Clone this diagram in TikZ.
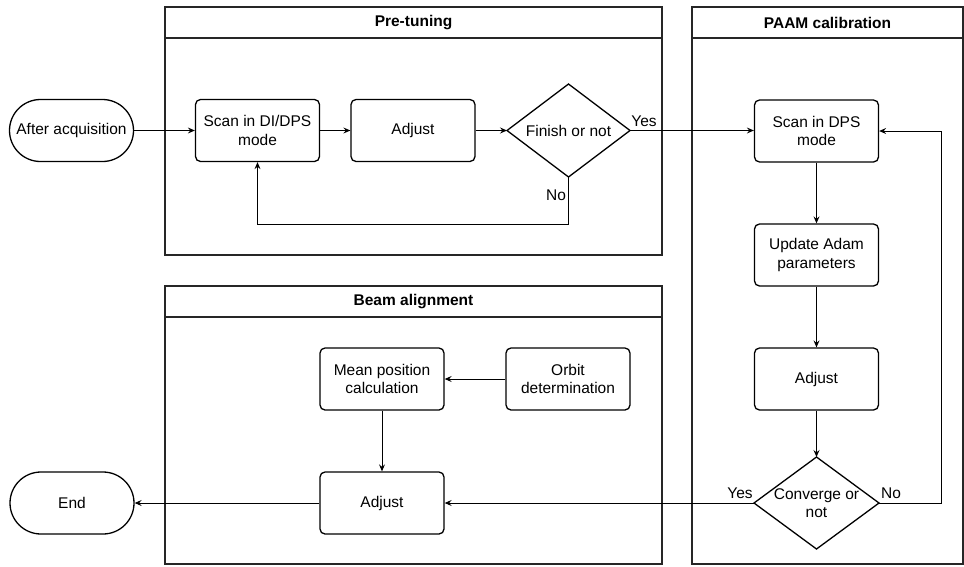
\documentclass[tikz,border=0pt]{standalone}
\usepackage{fontspec}
\setmainfont{Liberation Sans}
\usetikzlibrary{arrows.meta,calc}

\begin{document}
\begin{tikzpicture}[x=1pt,y=-1pt,
  every node/.style={font=\fontsize{15.5}{18.5}\selectfont, text=black, inner sep=0pt},
  proc/.style={draw, line width=1.3pt, rounded corners=5pt, minimum width=124pt, minimum height=62pt, align=center},
  term/.style={draw, line width=1.3pt, rounded corners=31pt, minimum width=124pt, minimum height=62pt, align=center},
  decision/.style={draw, line width=1.3pt},
  dectext/.style={align=center},
  lane/.style={draw, line width=1.1pt, draw=black!85},
  lanetitle/.style={font=\fontsize{15.5}{18.5}\selectfont\bfseries},
  flow/.style={line width=1pt, -{Stealth[length=7pt,width=6pt,inset=2.5pt]}},
  lbl/.style={font=\fontsize{15.5}{18.5}\selectfont}
]
\useasboundingbox (0,0) rectangle (964,566);

% swimlane containers
\draw[lane] (165,7) rectangle (662,255);
\draw[lane] (165,38) -- (662,38);
\node[lanetitle] (tpre) at (413.5,23) {Pre-tuning};

\draw[lane] (692,7) rectangle (963,564);
\draw[lane] (692,38) -- (963,38);
\node[lanetitle] (tpaam) at (827.5,23) {PAAM calibration};

\draw[lane] (165,286) rectangle (662,564);
\draw[lane] (165,317) -- (662,317);
\node[lanetitle] (tbeam) at (413.5,302) {Beam alignment};

% pre-tuning stage
\node[term] (acq) at (71.5,130.5) {After acquisition};
\node[proc] (scan1) at (257.5,130.5) {Scan in DI/DPS\\mode};
\node[proc] (adj1) at (413,130.5) {Adjust};
\draw[decision] (568.5,84) coordinate (d1n) -- (630,130.5) coordinate (d1e)
  -- (568.5,177) coordinate (d1s) -- (507,130.5) coordinate (d1w) -- cycle;
\node[dectext] (dec1) at (568.5,130.5) {Finish or not};

% PAAM calibration stage
\node[proc] (scan2) at (816.5,131) {Scan in DPS\\mode};
\node[proc] (upd) at (816.5,255) {Update Adam\\parameters};
\node[proc] (adj2) at (816.5,379) {Adjust};
\draw[decision] (816.5,457) coordinate (d2n) -- (879,503) coordinate (d2e)
  -- (816.5,549) coordinate (d2s) -- (754,503) coordinate (d2w) -- cycle;
\node[dectext] (dec2) at (816.5,503) {Converge or\\not};

% beam alignment stage
\node[proc] (mean) at (382,379) {Mean position\\calculation};
\node[proc] (orbit) at (568,379) {Orbit\\determination};
\node[proc] (adj3) at (382,503) {Adjust};
\node[term] (fin) at (72,503) {End};

% connectors
\draw[flow] (acq.east) -- (scan1.west);
\draw[flow] (scan1.east) -- (adj1.west);
\draw[flow] (adj1.east) -- (d1w);
\draw[flow] (d1e) -- (scan2.west |- d1e);
\node[lbl] (yes1) at (644,121) {Yes};
\coordinate (loop1) at (568.5,224);
\draw[flow] (d1s) -- (loop1) -| (scan1.south);
\node[lbl] (no1) at (556,195) {No};

\draw[flow] (scan2.south) -- (upd.north);
\draw[flow] (upd.south) -- (adj2.north);
\draw[flow] (adj2.south) -- (d2n);
\coordinate (loop2) at (941,503);
\draw[flow] (d2e) -- (loop2) |- (scan2.east);
\node[lbl] (no2) at (891,493) {No};
\draw[flow] (d2w) -- (adj3.east |- d2w);
\node[lbl] (yes2) at (740,493) {Yes};

\draw[flow] (orbit.west) -- (mean.east);
\draw[flow] (mean.south) -- (adj3.north);
\draw[flow] (adj3.west) -- (fin.east);
\end{tikzpicture}
\end{document}
